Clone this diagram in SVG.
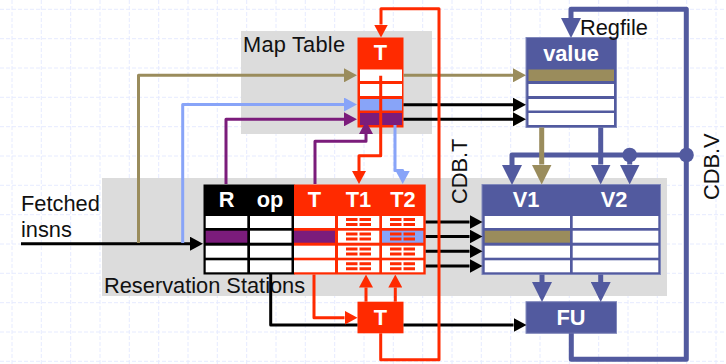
<svg xmlns="http://www.w3.org/2000/svg" xmlns:xlink="http://www.w3.org/1999/xlink" width="726" height="364" viewBox="0 0 726 364">
<style>
text{font-family:"Liberation Sans",Arial,sans-serif;font-size:21.8px;fill:#111}
.h{font-weight:bold;fill:#fff;text-anchor:middle}
.panel{fill:#dcdcdc}
.w{fill:#fff}
.red{fill:#ff2a00}
.navy{fill:#525a9f;stroke:#8088bb;stroke-width:1}
.blk{fill:#000}
.tan{fill:#9a8c5c}
.pur{fill:#7b1c7b}
.lb{fill:#88a4f8}
.c{fill:none;stroke-linejoin:round}
.k{stroke:#000;stroke-width:3}
.r{stroke:#ff2a00;stroke-width:3}
.t{stroke:#9a8c5c;stroke-width:3}
.p{stroke:#7b1c7b;stroke-width:3}
.l{stroke:#88a4f8;stroke-width:3}
.n{stroke:#525a9f;stroke-width:5}
.T{stroke:#9a8c5c;stroke-width:5}
.grid{fill:none;stroke:#e6ebff;stroke-width:1;stroke-dasharray:4 2}
.ak{marker-end:url(#ak)}
.ar{marker-end:url(#ar)}
.at{marker-end:url(#at)}
.ap{marker-end:url(#ap)}
.al{marker-end:url(#al)}
.an{marker-end:url(#an)}
.aT{marker-end:url(#aT)}
</style>
<defs>
<marker id="ak" markerUnits="userSpaceOnUse" markerWidth="13" markerHeight="14" refX="0" refY="7" orient="auto"><polygon points="0,0 13,7 0,14" fill="#000"/></marker>
<marker id="ar" markerUnits="userSpaceOnUse" markerWidth="13" markerHeight="14" refX="0" refY="7" orient="auto"><polygon points="0,0 13,7 0,14" fill="#ff2a00"/></marker>
<marker id="at" markerUnits="userSpaceOnUse" markerWidth="13" markerHeight="14" refX="0" refY="7" orient="auto"><polygon points="0,0 13,7 0,14" fill="#9a8c5c"/></marker>
<marker id="ap" markerUnits="userSpaceOnUse" markerWidth="13" markerHeight="14" refX="0" refY="7" orient="auto"><polygon points="0,0 13,7 0,14" fill="#7b1c7b"/></marker>
<marker id="al" markerUnits="userSpaceOnUse" markerWidth="13" markerHeight="14" refX="0" refY="7" orient="auto"><polygon points="0,0 13,7 0,14" fill="#88a4f8"/></marker>
<marker id="an" markerUnits="userSpaceOnUse" markerWidth="20" markerHeight="20" refX="0" refY="10" orient="auto"><polygon points="0,0 20,10 0,20" fill="#525a9f"/></marker>
<marker id="aT" markerUnits="userSpaceOnUse" markerWidth="20" markerHeight="20" refX="0" refY="10" orient="auto"><polygon points="0,0 20,10 0,20" fill="#9a8c5c"/></marker>
<g id="dashes"><path d="M0 0h11.5M13.5 0h11.5M0 5h11.5M13.5 5h11.5" fill="none" stroke="#ff2a00" stroke-width="3"/></g>
</defs>
<rect width="726" height="364" fill="#fff"/>
<path class="grid" d="M12 0V364M41.3 0V364M70.7 0V364M100 0V364M129.3 0V364M158.7 0V364M188 0V364M217.3 0V364M246.7 0V364M276 0V364M305.3 0V364M334.7 0V364M364 0V364M393.3 0V364M422.7 0V364M452 0V364M481.3 0V364M510.7 0V364M540 0V364M569.3 0V364M598.7 0V364M628 0V364M657.3 0V364M686.7 0V364M716 0V364M0 9.3H726M0 38.7H726M0 68H726M0 97.3H726M0 126.7H726M0 156H726M0 185.3H726M0 214.7H726M0 244H726M0 273.3H726M0 302.7H726M0 332H726M0 361.3H726"/>

<g id="map-table-panel"><rect class="panel" x="241" y="31" width="191" height="103"/><text x="243" y="52" textLength="102" lengthAdjust="spacing">Map Table</text></g>
<g id="rs-panel"><rect class="panel" x="102" y="178" width="565" height="118"/></g>

<g id="map-table">
<rect class="red" x="357.5" y="37.5" width="46" height="90"/>
<text class="h" x="380.5" y="60">T</text>
<rect class="w" x="360" y="69.5" width="42" height="11.5"/>
<rect class="w" x="360" y="84" width="42" height="12"/>
<rect class="lb" x="360" y="99" width="42" height="11.5"/>
<rect class="pur" x="360" y="113" width="42" height="12"/>
</g>

<g id="regfile">
<rect class="navy" x="526" y="37.5" width="90.5" height="90"/>
<text class="h" x="571" y="61">value</text>
<rect class="tan" x="528.5" y="69.5" width="85.5" height="11.5"/>
<rect class="w" x="528.5" y="84" width="85.5" height="12"/>
<rect class="w" x="528.5" y="99" width="85.5" height="11.5"/>
<rect class="w" x="528.5" y="113" width="85.5" height="12"/>
<text x="580" y="35">Regfile</text>
</g>

<g id="rs-r-op">
<rect class="blk" x="203.5" y="184.5" width="91" height="90"/>
<text class="h" x="226.5" y="207">R</text>
<text class="h" x="270" y="207">op</text>
<rect class="w" x="205.7" y="216" width="41.6" height="12"/>
<rect class="w" x="250" y="216" width="41.5" height="12"/>
<rect class="pur" x="205.7" y="230.7" width="41.6" height="12"/>
<rect class="w" x="250" y="230.7" width="41.5" height="12"/>
<rect class="w" x="205.7" y="245.7" width="41.6" height="12"/>
<rect class="w" x="250" y="245.7" width="41.5" height="12"/>
<rect class="w" x="205.7" y="260.3" width="41.6" height="12"/>
<rect class="w" x="250" y="260.3" width="41.5" height="12"/>
</g>

<g id="rs-tags">
<rect class="red" x="294" y="184.5" width="131.7" height="90"/>
<text class="h" x="314.5" y="207">T</text>
<text class="h" x="358.5" y="207">T1</text>
<text class="h" x="403" y="207">T2</text>
<rect class="w" x="294" y="216" width="41" height="12"/>
<rect class="pur" x="294" y="230.7" width="41" height="12"/>
<rect class="w" x="294" y="245.7" width="41" height="12"/>
<rect class="w" x="294" y="260.3" width="41" height="12"/>
<rect class="w" x="338" y="216" width="41.3" height="12"/>
<rect class="w" x="338" y="230.7" width="41.3" height="12"/>
<rect class="w" x="338" y="245.7" width="41.3" height="12"/>
<rect class="w" x="338" y="260.3" width="41.3" height="12"/>
<rect class="w" x="382" y="216" width="41.3" height="12"/>
<rect class="lb" x="382" y="230.7" width="41.3" height="12"/>
<rect class="w" x="382" y="245.7" width="41.3" height="12"/>
<rect class="w" x="382" y="260.3" width="41.3" height="12"/>
<use xlink:href="#dashes" href="#dashes" x="346" y="219.5"/>
<use xlink:href="#dashes" href="#dashes" x="346" y="234"/>
<use xlink:href="#dashes" href="#dashes" x="346" y="249"/>
<use xlink:href="#dashes" href="#dashes" x="346" y="263.7"/>
<use xlink:href="#dashes" href="#dashes" x="390" y="219.5"/>
<use xlink:href="#dashes" href="#dashes" x="390" y="234"/>
<use xlink:href="#dashes" href="#dashes" x="390" y="249"/>
<use xlink:href="#dashes" href="#dashes" x="390" y="263.7"/>
</g>

<g id="rs-values">
<rect class="navy" x="482" y="184.5" width="178.5" height="90"/>
<text class="h" x="526" y="207">V1</text>
<text class="h" x="614" y="207">V2</text>
<rect class="w" x="484.7" y="216" width="85.3" height="12"/>
<rect class="w" x="572.7" y="216" width="85.6" height="12"/>
<rect class="tan" x="484.7" y="230.7" width="85.3" height="12"/>
<rect class="w" x="572.7" y="230.7" width="85.6" height="12"/>
<rect class="w" x="484.7" y="245.7" width="85.3" height="12"/>
<rect class="w" x="572.7" y="245.7" width="85.6" height="12"/>
<rect class="w" x="484.7" y="260.3" width="85.3" height="12"/>
<rect class="w" x="572.7" y="260.3" width="85.6" height="12"/>
</g>

<g id="t-box"><rect class="red" x="357.5" y="301.7" width="46" height="31.6"/><text class="h" x="380.5" y="325">T</text></g>
<g id="fu"><rect class="navy" x="526" y="301.7" width="90.5" height="31.6"/><text class="h" x="571" y="325">FU</text></g>
<g id="labels">
<text x="21" y="211">Fetched</text>
<text x="21" y="236.5">insns</text>
<text x="104" y="293">Reservation Stations</text>
<text transform="translate(467 204) rotate(-90)">CDB.T</text>
<text transform="translate(719 200) rotate(-90)">CDB.V</text>
</g>

<g id="connectors">
<path class="c k ak" d="M21 243.7H190"/>
<path class="c t at" d="M138.5 243V75.3H344"/>
<path class="c l al" d="M182.7 243V104.5H344"/>
<path class="c p ap" d="M226 184V119.3H344"/>
<path class="c p ap" d="M315 184V141.3H366V134"/>
<path class="c t at" d="M403.5 75.3H513"/>
<path class="c k ak" d="M403.5 104.7H513"/>
<path class="c k ak" d="M403.5 119.3H513"/>
<path class="c l al" d="M395 125V170.5H402.7V171"/>
<path class="c k ak" d="M425.7 222H469.5"/>
<path class="c k ak" d="M425.7 236.5H469.5"/>
<path class="c k ak" d="M425.7 251.3H469.5"/>
<path class="c k ak" d="M425.7 266H469.5"/>
<path class="c k" d="M270.7 274V325H357.5"/>
<path class="c k ak" d="M403.5 325H513.5"/>
<path class="c r ar" d="M314 274.5V317.7H344.5"/>
<path class="c r ar" d="M366 301.7V287.5"/>
<path class="c r ar" d="M395.3 301.7V287.5"/>
<path class="c r ar" d="M380.7 333.3V359.7H439V8.7H381V24.5"/>
<path class="c r ar" d="M380.7 75.7V155.7H359V171"/>
<path class="c n an" d="M571.3 333.3V359.3H686.3V9.3H571V18"/>
<path class="c n an" d="M686.3 155H512V165"/>
<path class="c T aT" d="M541.7 127.5V164.5"/>
<path class="c n an" d="M600.7 127.5V164.5"/>
<path class="c n an" d="M629.7 155V164.5"/>
<path class="c n an" d="M542 274.5V282"/>
<path class="c n an" d="M600.7 274.5V282"/>
<circle cx="629.7" cy="155" r="7.3" fill="#525a9f"/>
<circle cx="686.5" cy="155" r="7.3" fill="#525a9f"/>
</g>
</svg>
